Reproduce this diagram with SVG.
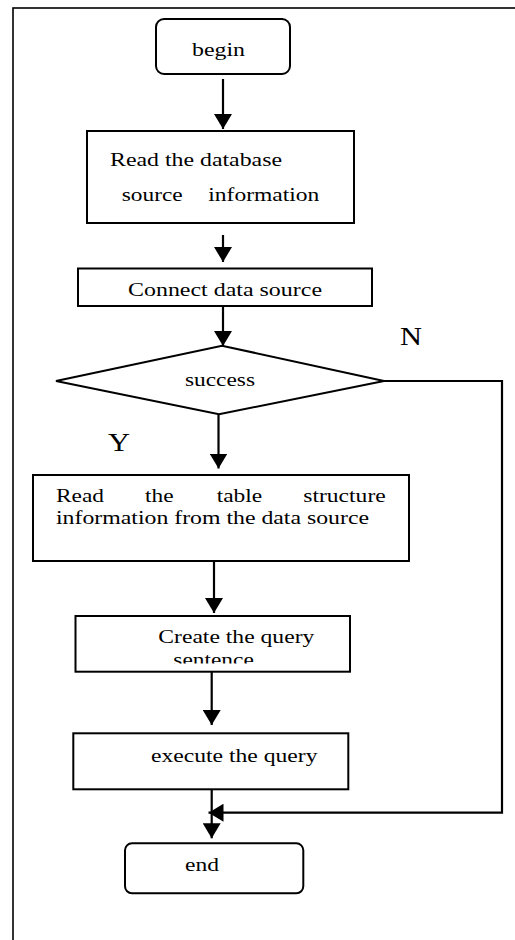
<svg xmlns="http://www.w3.org/2000/svg" width="515" height="940" viewBox="0 0 515 940">
<style>
.box{fill:#fff;stroke:#000;stroke-width:2}
.t{font-family:"Liberation Serif","Times New Roman",serif;font-size:18.5px;fill:#000}
.lbl{font-family:"Liberation Serif","Times New Roman",serif;font-size:25px;fill:#000}
.c{fill:none;stroke:#000;stroke-width:2.2}
</style>
<defs>
<marker id="ah" markerUnits="userSpaceOnUse" markerWidth="15" markerHeight="18" refX="15" refY="9" orient="auto">
<path d="M0,0 L15,9 L0,18 z" fill="#000"/>
</marker>
<clipPath id="clipSent"><rect x="70" y="600" width="290" height="63.5"/></clipPath>
</defs>
<rect width="515" height="940" fill="#fff"/>
<rect x="13" y="8" width="520" height="960" fill="none" stroke="#000" stroke-width="1.6"/>

<g id="begin">
<rect class="box" x="156" y="19" width="134" height="55" rx="8"/>
<text class="t" x="192" y="56" textLength="53" lengthAdjust="spacingAndGlyphs">begin</text>
</g>
<g id="readdb">
<rect class="box" x="87" y="131" width="267" height="92"/>
<text class="t" x="110" y="166" textLength="172" lengthAdjust="spacingAndGlyphs">Read the database</text>
<text class="t" y="201"><tspan x="121.7" textLength="61" lengthAdjust="spacingAndGlyphs">source</tspan><tspan x="208.3" textLength="111" lengthAdjust="spacingAndGlyphs">information</tspan></text>
</g>
<g id="connect">
<rect class="box" x="78" y="268.5" width="294" height="37.5"/>
<text class="t" x="128" y="295.5" textLength="194" lengthAdjust="spacingAndGlyphs">Connect data source</text>
</g>
<g id="success">
<polygon class="box" points="56,381 222,345.7 384,381 219,414.3" stroke-width="1.8"/>
<text class="t" x="185" y="386" textLength="70" lengthAdjust="spacingAndGlyphs">success</text>
</g>
<g id="labels">
<text class="lbl" x="400" y="345" textLength="22" lengthAdjust="spacingAndGlyphs">N</text>
<text class="lbl" x="108" y="451" textLength="22" lengthAdjust="spacingAndGlyphs">Y</text>
</g>
<g id="readtable">
<rect class="box" x="33" y="475" width="376" height="86"/>
<text class="t" y="502.3"><tspan x="56" textLength="48" lengthAdjust="spacingAndGlyphs">Read</tspan><tspan x="145" textLength="28.5" lengthAdjust="spacingAndGlyphs">the</tspan><tspan x="216.7" textLength="45.5" lengthAdjust="spacingAndGlyphs">table</tspan><tspan x="303.3" textLength="82.4" lengthAdjust="spacingAndGlyphs">structure</tspan></text>
<text class="t" x="56" y="524" textLength="313" lengthAdjust="spacingAndGlyphs">information from the data source</text>
</g>
<g id="create">
<rect class="box" x="75.5" y="616" width="274.5" height="55.7"/>
<text class="t" x="158.3" y="643.3" textLength="156" lengthAdjust="spacingAndGlyphs">Create the query</text>
<text class="t" x="173.3" y="665.5" textLength="80.5" lengthAdjust="spacingAndGlyphs" clip-path="url(#clipSent)">sentence</text>
</g>
<g id="execute">
<rect class="box" x="73.3" y="733.3" width="275" height="56"/>
<text class="t" x="151" y="761.7" textLength="166.5" lengthAdjust="spacingAndGlyphs">execute the query</text>
</g>
<g id="end">
<rect class="box" x="125" y="843.3" width="178.3" height="50" rx="7"/>
<text class="t" x="185" y="870.7" textLength="34" lengthAdjust="spacingAndGlyphs">end</text>
</g>

<g id="connectors">
<line class="c" x1="223" y1="79" x2="223" y2="129" marker-end="url(#ah)"/>
<line class="c" x1="223" y1="235" x2="223" y2="262" marker-end="url(#ah)"/>
<line class="c" x1="223" y1="306" x2="223" y2="346" marker-end="url(#ah)"/>
<line class="c" x1="218.5" y1="415" x2="218.5" y2="468.5" marker-end="url(#ah)"/>
<line class="c" x1="214" y1="561" x2="214" y2="613" marker-end="url(#ah)"/>
<line class="c" x1="211.7" y1="672" x2="211.7" y2="725" marker-end="url(#ah)"/>
<line class="c" x1="211.7" y1="789.3" x2="211.7" y2="838.3" marker-end="url(#ah)"/>
<polyline class="c" points="384,381 502,381 502,812.7 208.5,812.7" marker-end="url(#ah)"/>
</g>
</svg>
